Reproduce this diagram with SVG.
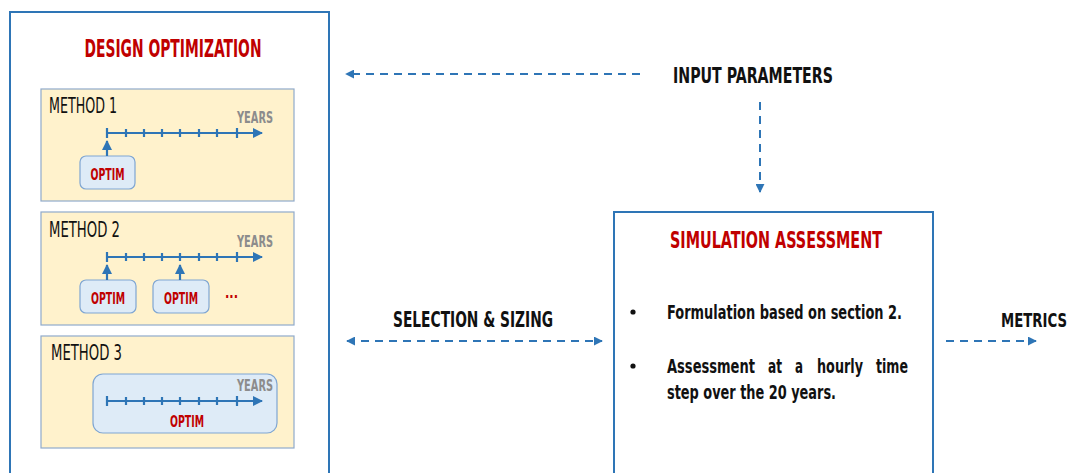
<svg xmlns="http://www.w3.org/2000/svg" width="1072" height="473" viewBox="0 0 1072 473">
<style>
.t{font-family:"Liberation Sans Narrow","DejaVu Sans Condensed","Liberation Sans",sans-serif;font-weight:bold}
.n{font-family:"Liberation Sans Narrow","DejaVu Sans Condensed","Liberation Sans",sans-serif;font-weight:normal}
.red{fill:#c00000}
.blk{fill:#111}
.gry{fill:#8c8c8c}
.big{stroke:#2e75b6;stroke-width:2;fill:#fff}
.meth{fill:#fff2cc;stroke:#8faacb;stroke-width:1.2}
.opt{fill:#deebf7;stroke:#7fa6d3;stroke-width:1.2}
.tl{stroke:#2e75b6;stroke-width:2.2;fill:none}
.dash{stroke:#2e75b6;stroke-width:2;stroke-dasharray:8 6;fill:none}
</style>
<defs>
<marker id="tri" viewBox="0 0 10 10" refX="9" refY="5" markerWidth="10" markerHeight="10" markerUnits="userSpaceOnUse" orient="auto-start-reverse"><path d="M0,0 L10,5 L0,10z" fill="#2e75b6"/></marker>
<marker id="sm" viewBox="0 0 10 10" refX="9" refY="5" markerWidth="9" markerHeight="9" markerUnits="userSpaceOnUse" orient="auto-start-reverse"><path d="M0,0 L10,5 L0,10z" fill="#2e75b6"/></marker>
<g id="ticks">
<path class="tl" d="M107,-5V5M126,-4V4M144,-4V4M162,-4V4M180,-4V4M199,-4V4M217,-4V4M237,-5V5"/>
<line class="tl" x1="107" y1="0" x2="262" y2="0" marker-end="url(#tri)"/>
</g>
</defs>

<g id="design-optimization">
<rect class="big" x="10" y="12" width="319" height="470"/>
<text class="t red" x="173" y="57" font-size="24" text-anchor="middle" textLength="177" lengthAdjust="spacingAndGlyphs">DESIGN OPTIMIZATION</text>
</g>

<g id="method1">
<rect class="meth" x="41" y="89" width="253" height="112"/>
<text class="n blk" x="49" y="113" font-size="21" textLength="68" lengthAdjust="spacingAndGlyphs">METHOD 1</text>
<text class="t gry" x="237" y="123" font-size="15" textLength="36" lengthAdjust="spacingAndGlyphs">YEARS</text>
<use href="#ticks" y="133"/>
<rect class="opt" x="80" y="156" width="55" height="33" rx="6"/>
<text class="t red" x="107.5" y="180" font-size="16" text-anchor="middle" textLength="34" lengthAdjust="spacingAndGlyphs">OPTIM</text>
<line class="tl" x1="107" y1="156" x2="107" y2="141" marker-end="url(#tri)"/>
</g>

<g id="method2">
<rect class="meth" x="41" y="212" width="253" height="113"/>
<text class="n blk" x="49" y="237" font-size="21" textLength="71" lengthAdjust="spacingAndGlyphs">METHOD 2</text>
<text class="t gry" x="237" y="247" font-size="15" textLength="36" lengthAdjust="spacingAndGlyphs">YEARS</text>
<use href="#ticks" y="257"/>
<rect class="opt" x="80" y="280" width="56" height="33" rx="6"/>
<text class="t red" x="108" y="304" font-size="16" text-anchor="middle" textLength="34" lengthAdjust="spacingAndGlyphs">OPTIM</text>
<rect class="opt" x="153" y="280" width="56" height="33" rx="6"/>
<text class="t red" x="181" y="304" font-size="16" text-anchor="middle" textLength="34" lengthAdjust="spacingAndGlyphs">OPTIM</text>
<line class="tl" x1="107" y1="280" x2="107" y2="265" marker-end="url(#tri)"/>
<line class="tl" x1="180" y1="280" x2="180" y2="265" marker-end="url(#tri)"/>
<text class="t red" x="225" y="298" font-size="16" textLength="13" lengthAdjust="spacingAndGlyphs">...</text>
</g>

<g id="method3">
<rect class="meth" x="41" y="336" width="253" height="112"/>
<text class="n blk" x="51" y="360" font-size="21" textLength="71" lengthAdjust="spacingAndGlyphs">METHOD 3</text>
<rect class="opt" x="93" y="374" width="184" height="59" rx="10"/>
<text class="t gry" x="237" y="391" font-size="15" textLength="36" lengthAdjust="spacingAndGlyphs">YEARS</text>
<use href="#ticks" y="401"/>
<text class="t red" x="187" y="427" font-size="16" text-anchor="middle" textLength="34" lengthAdjust="spacingAndGlyphs">OPTIM</text>
</g>

<g id="input-parameters">
<text class="t blk" x="673" y="83" font-size="21" textLength="160" lengthAdjust="spacingAndGlyphs">INPUT PARAMETERS</text>
</g>

<g id="simulation-assessment">
<rect class="big" x="614" y="212" width="319" height="270"/>
<text class="t red" x="776" y="248" font-size="23" text-anchor="middle" textLength="212" lengthAdjust="spacingAndGlyphs">SIMULATION ASSESSMENT</text>
<circle cx="633" cy="312" r="2.6" fill="#111"/>
<circle cx="633" cy="366" r="2.6" fill="#111"/>
<text class="t blk" x="667" y="319" font-size="20" textLength="235" lengthAdjust="spacingAndGlyphs">Formulation based on section 2.</text>
<text class="t blk" y="373" font-size="20"><tspan x="667" textLength="88" lengthAdjust="spacingAndGlyphs">Assessment</tspan><tspan x="768" textLength="14" lengthAdjust="spacingAndGlyphs">at</tspan><tspan x="795" textLength="8" lengthAdjust="spacingAndGlyphs">a</tspan><tspan x="817" textLength="46" lengthAdjust="spacingAndGlyphs">hourly</tspan><tspan x="876" textLength="32" lengthAdjust="spacingAndGlyphs">time</tspan></text>
<text class="t blk" x="667" y="399" font-size="20" textLength="169" lengthAdjust="spacingAndGlyphs">step over the 20 years.</text>
</g>

<g id="selection-sizing-label">
<text class="t blk" x="393" y="327" font-size="21" textLength="160" lengthAdjust="spacingAndGlyphs">SELECTION &amp; SIZING</text>
</g>

<g id="metrics">
<text class="t blk" x="1001" y="327" font-size="20" textLength="66" lengthAdjust="spacingAndGlyphs">METRICS</text>
</g>

<g id="connectors">
<line class="dash" x1="640" y1="74" x2="346" y2="74" marker-end="url(#sm)"/>
<line class="dash" x1="760" y1="102" x2="760" y2="192" marker-end="url(#sm)"/>
<line class="dash" x1="347" y1="341" x2="602" y2="341" marker-start="url(#sm)" marker-end="url(#sm)"/>
<line class="dash" x1="946" y1="341" x2="1036" y2="341" marker-end="url(#sm)"/>
</g>
</svg>
